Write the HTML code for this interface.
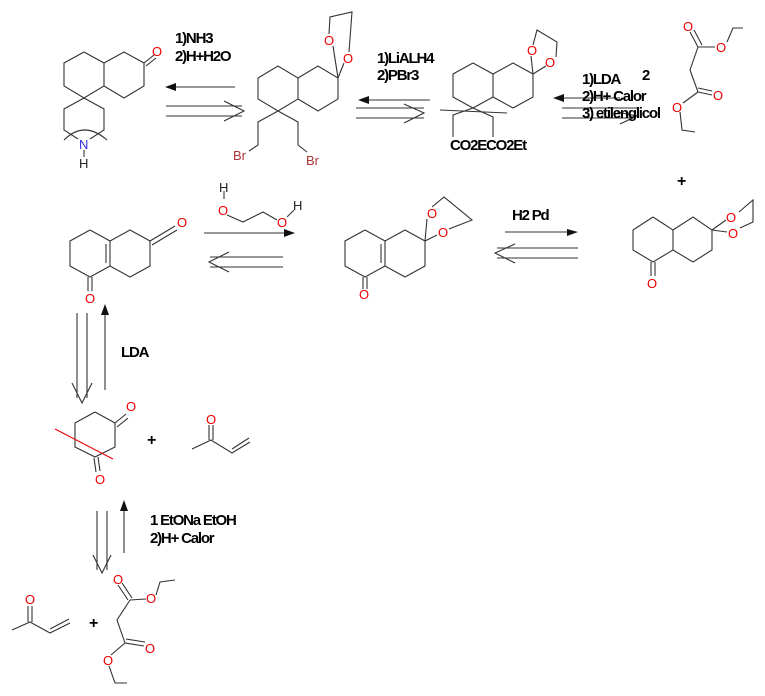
<!DOCTYPE html>
<html><head><meta charset="utf-8"><style>
html,body{margin:0;padding:0;background:#fff;}
svg{display:block;}
text{font-family:"Liberation Sans",Arial,sans-serif;}
.b{font-weight:bold;font-size:15px;letter-spacing:-1.2px;fill:#000;}
.o{fill:#e00;font-size:13px;}
</style></head><body>
<svg width="765" height="696" viewBox="0 0 765 696" xmlns="http://www.w3.org/2000/svg">
<g stroke="#333" stroke-width="1.1" fill="none">
<polyline points="84,52 104,63 104,86 84,98 64,86 64,63 84,52"/>
<polyline points="104,63 124,52 144,63 144,86 124,98 104,86"/>
<line x1="144" y1="63" x2="154" y2="55"/><line x1="146" y1="66" x2="156" y2="58"/>
<polyline points="84,98 104,109 104,130 90,139"/>
<polyline points="84,98 64,109 64,130 78,139"/>
<path d="M64,140 Q84,120 107,140"/>
<line x1="84" y1="150" x2="84" y2="157"/>
<line x1="168" y1="87" x2="235" y2="87"/>
<line x1="166" y1="106" x2="242" y2="106"/><line x1="166" y1="116" x2="242" y2="116"/>
<polyline points="224,101 244,111 224,121"/>
<polyline points="258,78 278,66 298,78 298,99 278,111 258,99 258,78"/>
<polyline points="298,78 318,66 338,78 338,99 318,111 298,99"/>
<line x1="338" y1="78" x2="333" y2="46"/><line x1="338" y1="78" x2="344" y2="63"/>
<polyline points="329,34 330,17 352,12 349,52"/>
<polyline points="278,111 258,122 258,145 249,151"/>
<polyline points="278,111 298,122 298,145 307,152"/>
<line x1="362" y1="100" x2="430" y2="100"/>
<line x1="356" y1="108" x2="424" y2="108"/><line x1="356" y1="118" x2="424" y2="118"/>
<polyline points="404,104 424,113 404,123"/>
<polyline points="473,63 493,74 493,97 473,108 453,97 453,74 473,63"/>
<polyline points="493,74 513,63 533,74 533,97 513,108 493,97"/>
<line x1="533" y1="74" x2="531" y2="56"/><line x1="533" y1="74" x2="546" y2="66"/>
<polyline points="533,45 537,30 557,42 556,57"/>
<line x1="440" y1="110" x2="507" y2="113"/>
<polyline points="453,137 453,115 473,108 493,117 493,137"/>
<line x1="558" y1="98" x2="620" y2="98"/>
<line x1="562" y1="108" x2="637" y2="108"/><line x1="562" y1="118" x2="633" y2="118"/>
<polyline points="617,112 637,116 620,124"/>
<line x1="698" y1="47" x2="690" y2="32"/><line x1="702" y1="45" x2="694" y2="30"/>
<line x1="698" y1="47" x2="715" y2="47"/>
<polyline points="727,42 733,28 743,28"/>
<polyline points="698,47 690,70 698,92"/>
<line x1="698" y1="92" x2="712" y2="95"/><line x1="698" y1="88" x2="712" y2="91"/>
<line x1="698" y1="92" x2="683" y2="103"/>
<polyline points="680,112 682,130 695,132"/>
<polyline points="90,230 110,241 110,266 90,277 70,266 70,241 90,230"/>
<polyline points="110,241 130,230 150,241 150,266 130,277 110,266"/>
<line x1="106" y1="244" x2="106" y2="263"/>
<line x1="150" y1="241" x2="175" y2="226"/><line x1="152" y1="245" x2="177" y2="230"/>
<line x1="88" y1="277" x2="88" y2="291"/><line x1="92" y1="277" x2="92" y2="291"/>
<line x1="224" y1="191" x2="224" y2="199"/>
<polyline points="227,215 243,222 263,212 277,220"/>
<line x1="287" y1="217" x2="294" y2="210"/>
<line x1="204" y1="233" x2="285" y2="233"/>
<line x1="210" y1="257" x2="283" y2="257"/><line x1="210" y1="267" x2="283" y2="267"/>
<polyline points="229,252 209,262 229,272"/>
<polyline points="365,230 385,241 385,266 365,277 345,266 345,241 365,230"/>
<polyline points="385,241 405,230 425,241 425,266 405,277 385,266"/>
<line x1="381" y1="244" x2="381" y2="263"/>
<line x1="363" y1="277" x2="363" y2="289"/><line x1="367" y1="277" x2="367" y2="289"/>
<line x1="425" y1="241" x2="427" y2="219"/><line x1="425" y1="241" x2="437" y2="235"/>
<polyline points="432,207 444,197 472,220 449,229"/>
<line x1="505" y1="232" x2="570" y2="232"/>
<line x1="497" y1="248" x2="578" y2="248"/><line x1="497" y1="258" x2="578" y2="258"/>
<polyline points="515,244 495,253 515,263"/>
<polyline points="653,217 673,230 673,250 653,262 633,250 633,230 653,217"/>
<polyline points="673,230 693,217 712,230 712,250 693,262 673,250"/>
<line x1="651" y1="262" x2="651" y2="276"/><line x1="655" y1="262" x2="655" y2="276"/>
<line x1="712" y1="230" x2="726" y2="220"/><line x1="712" y1="230" x2="727" y2="232"/>
<polyline points="739,212 753,200 753,222 740,228"/>
<line x1="77" y1="313" x2="77" y2="398"/><line x1="87" y1="313" x2="87" y2="398"/>
<polyline points="72,383 82,403 92,383"/>
<line x1="105" y1="390" x2="105" y2="312"/>
<polyline points="95,412 115,423 115,447 95,457 75,447 75,423 95,412"/>
<line x1="115" y1="423" x2="126" y2="414"/><line x1="117" y1="427" x2="128" y2="418"/>
<line x1="94" y1="458" x2="96" y2="472"/><line x1="98" y1="457" x2="100" y2="471"/>
<polyline points="192,449 211,440 232,453 250,442"/>
<line x1="209" y1="440" x2="209" y2="425"/><line x1="213" y1="440" x2="213" y2="425"/>
<line x1="232" y1="449" x2="249" y2="438"/>
<line x1="97" y1="511" x2="97" y2="570"/><line x1="107" y1="511" x2="107" y2="570"/>
<polyline points="93,555 102,573 111,555"/>
<line x1="124" y1="553" x2="124" y2="508"/>
<polyline points="12,630 30,622 50,633 70,623"/>
<line x1="28" y1="622" x2="28" y2="606"/><line x1="32" y1="622" x2="32" y2="606"/>
<line x1="50" y1="629" x2="69" y2="619"/>
<line x1="128" y1="600" x2="118" y2="585"/><line x1="132" y1="598" x2="122" y2="583"/>
<line x1="130" y1="600" x2="146" y2="599"/>
<polyline points="156,595 160,582 175,580"/>
<polyline points="130,600 117,620 125,643"/>
<line x1="125" y1="643" x2="144" y2="646"/><line x1="126" y1="639" x2="145" y2="642"/>
<line x1="125" y1="643" x2="111" y2="655"/>
<polyline points="109,666 115,683 127,683"/>
</g>
<g fill="#111">
<polygon points="165,87 176,83 176,91"/>
<polygon points="358,100 369,96 369,104"/>
<polygon points="553,98 564,94 564,102"/>
<polygon points="295,233 284,229 284,237"/>
<polygon points="578,232 567,229 567,236"/>
<polygon points="105,304 101,315 109,315"/>
<polygon points="124,500 120,511 128,511"/>
</g>
<line x1="55" y1="429" x2="113" y2="459" stroke="#e00" stroke-width="1"/>
<g class="o">
<text x="152" y="56">O</text>
<text x="324" y="45">O</text><text x="343" y="63">O</text>
<text x="527" y="55">O</text><text x="545" y="67">O</text>
<text x="683" y="31">O</text><text x="716" y="52">O</text>
<text x="713" y="100">O</text><text x="672" y="112">O</text>
<text x="177" y="227">O</text><text x="85" y="303">O</text>
<text x="218" y="215">O</text><text x="277" y="227">O</text>
<text x="427" y="218">O</text><text x="438" y="237">O</text>
<text x="359" y="299">O</text>
<text x="726" y="222">O</text><text x="728" y="238">O</text>
<text x="647" y="288">O</text>
<text x="126" y="411">O</text><text x="95" y="484">O</text>
<text x="206" y="424">O</text>
<text x="25" y="604">O</text>
<text x="113" y="584">O</text><text x="146" y="603">O</text>
<text x="145" y="653">O</text><text x="103" y="665">O</text>
</g>
<text x="79" y="149" fill="#33d" font-size="13">N</text>
<text x="79" y="168" fill="#222" font-size="13">H</text>
<text x="233" y="160" fill="#a33" font-size="13">Br</text>
<text x="306" y="165" fill="#a33" font-size="13">Br</text>
<text x="219" y="192" fill="#222" font-size="13">H</text>
<text x="293" y="210" fill="#222" font-size="13">H</text>
<text class="b" x="175" y="43">1)NH3</text>
<text class="b" x="175" y="61">2)H+H2O</text>
<text class="b" x="377" y="63">1)LiALH4</text>
<text class="b" x="377" y="80">2)PBr3</text>
<text class="b" x="450" y="150">CO2ECO2Et</text>
<text class="b" x="582" y="84">1)LDA</text>
<text class="b" x="642" y="80" style="font-size:15px">2</text>
<text class="b" x="582" y="101">2)H+ Calor</text>
<text class="b" x="582" y="118">3) etilenglicol</text>
<text class="b" x="677" y="186" style="font-size:16px">+</text>
<text class="b" x="512" y="220">H2 Pd</text>
<text class="b" x="121" y="357">LDA</text>
<text class="b" x="147" y="445" style="font-size:16px">+</text>
<text class="b" x="150" y="525">1 EtONa EtOH</text>
<text class="b" x="150" y="543">2)H+ Calor</text>
<text class="b" x="89" y="628" style="font-size:16px">+</text>
</svg>
</body></html>
